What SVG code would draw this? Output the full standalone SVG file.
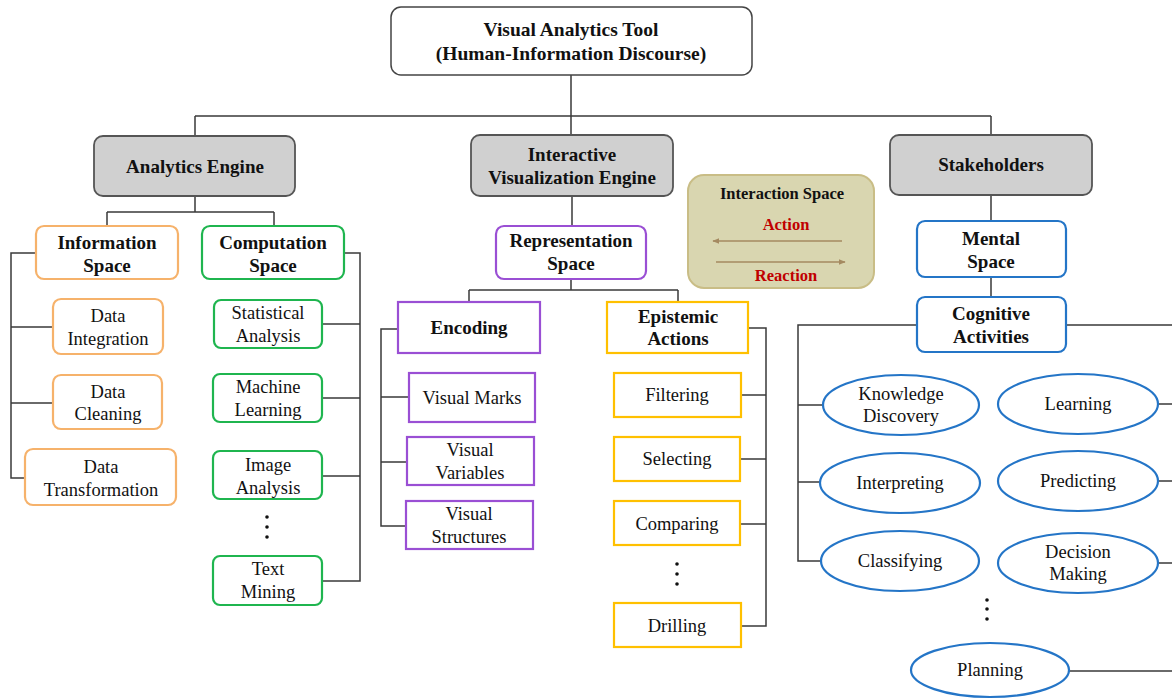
<svg xmlns="http://www.w3.org/2000/svg" width="1172" height="700" viewBox="0 0 1172 700">
<defs>
<style>
text{font-family:"Liberation Serif","Times New Roman",serif;text-anchor:middle;fill:#111}
.b{font-weight:bold;font-size:19px}
.r{font-size:18.5px}
.t{font-weight:bold;font-size:19.5px}
.grey{fill:#d0d0d0;stroke:#555;stroke-width:1.8}
.org{fill:#fff;stroke:#f6b26b;stroke-width:2.2}
.grn{fill:#fff;stroke:#1fb54f;stroke-width:2.2}
.pur{fill:#fff;stroke:#9a4fd4;stroke-width:2.2}
.yel{fill:#fff;stroke:#ffc000;stroke-width:2.2}
.blu{fill:#fff;stroke:#2475c7;stroke-width:2.2}
.conn path{fill:none;stroke:#3a3a3a;stroke-width:1.5}
.dot{fill:#111}
.red{fill:#c00000;font-weight:bold;font-size:16.5px}
</style>
<marker id="ah" viewBox="0 0 10 10" refX="9" refY="5" markerWidth="7" markerHeight="7" orient="auto-start-reverse" markerUnits="userSpaceOnUse">
<path d="M0,1 L10,5 L0,9 z" fill="#a58a61"/>
</marker>
</defs>
<rect width="1172" height="700" fill="#fff"/>

<g class="conn" id="connectors">
<path d="M571,75 V116 M195,116 H991 M195,116 V136 M571,116 V135 M991,116 V135"/>
<path d="M195,196 V212 M107,212 H274 M107,212 V226 M274,212 V226"/>
<path d="M36,253 H11 V478 H25 M11,327 H53 M11,403 H53"/>
<path d="M344,253 H360 V581 H322 M322,324 H360 M322,398 H360 M322,476 H360"/>
<path d="M572,196 V226"/>
<path d="M571,279 V290 M469,290 H678 M469,290 V302 M678,290 V302"/>
<path d="M398,329 H381 V526 H406 M381,397 H409 M381,462 H407"/>
<path d="M748,328 H766 V626 H741 M741,395 H766 M740,459 H766 M740,524 H766"/>
<path d="M991,195 V221 M991,277 V297"/>
<path d="M917,325 H798 V561 H821 M798,405 H823 M798,482 H820 M1066,325 H1172 M1159,404 H1172 M1159,481 H1172 M1159,563 H1172 M1068,671 H1172"/>
</g>

<g id="root">
<rect x="391" y="7" width="361" height="68" rx="10" fill="#fff" stroke="#444" stroke-width="1.5"/>
<text class="t" x="571" y="36">Visual Analytics Tool</text>
<text class="t" x="571" y="60">(Human-Information Discourse)</text>
</g>

<g id="analytics-engine">
<rect class="grey" x="94" y="136" width="201" height="60" rx="9"/>
<text class="b" x="195" y="173">Analytics Engine</text>
</g>
<g id="interactive-vis-engine">
<rect class="grey" x="471" y="135" width="202" height="61" rx="9"/>
<text class="b" x="572" y="161">Interactive</text>
<text class="b" x="572" y="184">Visualization Engine</text>
</g>
<g id="stakeholders">
<rect class="grey" x="890" y="135" width="202" height="60" rx="9"/>
<text class="b" x="991" y="171">Stakeholders</text>
</g>

<g id="information-space">
<rect class="org" x="36" y="226" width="142" height="53" rx="8"/>
<text class="b" x="107" y="249">Information</text>
<text class="b" x="107" y="272">Space</text>
</g>
<g id="data-integration">
<rect class="org" x="53" y="299" width="110" height="55" rx="8"/>
<text class="r" x="108" y="322">Data</text>
<text class="r" x="108" y="345">Integration</text>
</g>
<g id="data-cleaning">
<rect class="org" x="53" y="375" width="109" height="54" rx="8"/>
<text class="r" x="108" y="398">Data</text>
<text class="r" x="108" y="420">Cleaning</text>
</g>
<g id="data-transformation">
<rect class="org" x="25" y="449" width="151" height="56" rx="8"/>
<text class="r" x="101" y="473">Data</text>
<text class="r" x="101" y="496">Transformation</text>
</g>

<g id="computation-space">
<rect class="grn" x="202" y="226" width="142" height="53" rx="8"/>
<text class="b" x="273" y="249">Computation</text>
<text class="b" x="273" y="272">Space</text>
</g>
<g id="statistical-analysis">
<rect class="grn" x="214" y="300" width="108" height="48" rx="7"/>
<text class="r" x="268" y="319">Statistical</text>
<text class="r" x="268" y="342">Analysis</text>
</g>
<g id="machine-learning">
<rect class="grn" x="213" y="374" width="109" height="48" rx="7"/>
<text class="r" x="268" y="393">Machine</text>
<text class="r" x="268" y="416">Learning</text>
</g>
<g id="image-analysis">
<rect class="grn" x="213" y="451" width="109" height="48" rx="7"/>
<text class="r" x="268" y="471">Image</text>
<text class="r" x="268" y="494">Analysis</text>
</g>
<g id="comp-dots">
<circle class="dot" cx="267" cy="517" r="1.8"/><circle class="dot" cx="267" cy="527" r="1.8"/><circle class="dot" cx="267" cy="537" r="1.8"/>
</g>
<g id="text-mining">
<rect class="grn" x="213" y="556" width="109" height="49" rx="7"/>
<text class="r" x="268" y="575">Text</text>
<text class="r" x="268" y="598">Mining</text>
</g>

<g id="representation-space">
<rect class="pur" x="496" y="226" width="150" height="53" rx="8"/>
<text class="b" x="571" y="247">Representation</text>
<text class="b" x="571" y="270">Space</text>
</g>
<g id="encoding">
<rect class="pur" x="398" y="302" width="142" height="51"/>
<text class="b" x="469" y="334">Encoding</text>
</g>
<g id="visual-marks">
<rect class="pur" x="409" y="373" width="126" height="49"/>
<text class="r" x="472" y="404">Visual Marks</text>
</g>
<g id="visual-variables">
<rect class="pur" x="407" y="437" width="127" height="48"/>
<text class="r" x="470" y="456">Visual</text>
<text class="r" x="470" y="479">Variables</text>
</g>
<g id="visual-structures">
<rect class="pur" x="406" y="501" width="127" height="48"/>
<text class="r" x="469" y="520">Visual</text>
<text class="r" x="469" y="543">Structures</text>
</g>

<g id="epistemic-actions">
<rect class="yel" x="607" y="302" width="141" height="51"/>
<text class="b" x="678" y="323">Epistemic</text>
<text class="b" x="678" y="345">Actions</text>
</g>
<g id="filtering">
<rect class="yel" x="614" y="373" width="127" height="44"/>
<text class="r" x="677" y="401">Filtering</text>
</g>
<g id="selecting">
<rect class="yel" x="614" y="437" width="126" height="44"/>
<text class="r" x="677" y="465">Selecting</text>
</g>
<g id="comparing">
<rect class="yel" x="614" y="501" width="126" height="44"/>
<text class="r" x="677" y="530">Comparing</text>
</g>
<g id="epi-dots">
<circle class="dot" cx="677" cy="564" r="1.8"/><circle class="dot" cx="677" cy="574" r="1.8"/><circle class="dot" cx="677" cy="584" r="1.8"/>
</g>
<g id="drilling">
<rect class="yel" x="614" y="603" width="127" height="44"/>
<text class="r" x="677" y="632">Drilling</text>
</g>

<g id="interaction-space">
<rect x="688" y="175" width="186" height="113" rx="16" fill="#d9d6b0" stroke="#c9bd86" stroke-width="2"/>
<text x="782" y="199" style="font-weight:bold;font-size:16.5px">Interaction Space</text>
<text class="red" x="786" y="230">Action</text>
<path d="M842,241 H713" stroke="#a58a61" stroke-width="1.5" fill="none" marker-end="url(#ah)"/>
<path d="M716,262 H845" stroke="#a58a61" stroke-width="1.5" fill="none" marker-end="url(#ah)"/>
<text class="red" x="786" y="281">Reaction</text>
</g>

<g id="mental-space">
<rect class="blu" x="917" y="221" width="149" height="56" rx="8"/>
<text class="b" x="991" y="245">Mental</text>
<text class="b" x="991" y="268">Space</text>
</g>
<g id="cognitive-activities">
<rect class="blu" x="917" y="297" width="149" height="55" rx="8"/>
<text class="b" x="991" y="320">Cognitive</text>
<text class="b" x="991" y="343">Activities</text>
</g>
<g id="knowledge-discovery">
<ellipse class="blu" cx="901" cy="405" rx="78" ry="30"/>
<text class="r" x="901" y="400">Knowledge</text>
<text class="r" x="901" y="422">Discovery</text>
</g>
<g id="learning">
<ellipse class="blu" cx="1078" cy="404" rx="80" ry="30"/>
<text class="r" x="1078" y="410">Learning</text>
</g>
<g id="interpreting">
<ellipse class="blu" cx="900" cy="483" rx="80" ry="30"/>
<text class="r" x="900" y="489">Interpreting</text>
</g>
<g id="predicting">
<ellipse class="blu" cx="1078" cy="481" rx="80" ry="30"/>
<text class="r" x="1078" y="487">Predicting</text>
</g>
<g id="classifying">
<ellipse class="blu" cx="900" cy="561" rx="79" ry="30"/>
<text class="r" x="900" y="567">Classifying</text>
</g>
<g id="decision-making">
<ellipse class="blu" cx="1078" cy="563" rx="80" ry="30"/>
<text class="r" x="1078" y="558">Decision</text>
<text class="r" x="1078" y="580">Making</text>
</g>
<g id="cog-dots">
<circle class="dot" cx="987" cy="600" r="1.8"/><circle class="dot" cx="987" cy="609" r="1.8"/><circle class="dot" cx="987" cy="619" r="1.8"/>
</g>
<g id="planning">
<ellipse class="blu" cx="990" cy="670" rx="79" ry="27"/>
<text class="r" x="990" y="676">Planning</text>
</g>
</svg>
